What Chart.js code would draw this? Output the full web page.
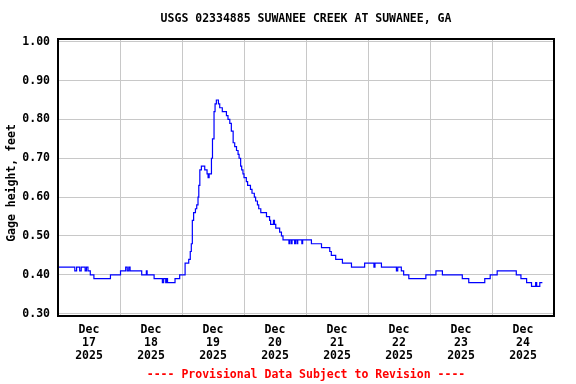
<!DOCTYPE html>
<html>
<head>
<meta charset="utf-8">
<script src="https://cdn.jsdelivr.net/npm/chart.js@4"></script>
<style>
  body { margin: 0; background: #fff; }
</style>
</head>
<body>
<canvas id="gage" width="576" height="384"></canvas>
<script>
// Gage height readings: hours since Dec 17 2025 00:00, value holds until the next reading
const hours = [0, 6.5, 7.2, 8.4, 9.0, 10.5, 11.0, 11.6, 12.5, 13.9, 20.3, 24.2, 26.2, 26.8, 27.4, 27.9,
  32.4, 34.2, 34.5, 37.2, 40.4, 40.9, 41.7, 42.0, 42.4, 45.3, 47.1, 49.2, 50.6,
  51.2, 51.6, 52.0, 52.5, 53.2, 53.7, 54.2, 54.5, 54.9, 55.5, 56.8, 57.7, 58.1, 58.5, 59.4, 59.8,
  60.4, 60.8, 61.3, 62.1, 62.6, 63.6, 65.2, 65.8, 66.5, 67.1, 67.8, 68.4, 69.1, 69.7, 70.1, 70.7,
  71.1, 71.6, 72.0, 72.9, 73.4, 74.5, 75.1, 76.0, 76.5, 77.2, 77.7, 78.5, 80.7, 81.9, 82.3, 83.4,
  83.8, 84.3, 85.8, 86.5, 87.1, 89.4, 89.7, 90.3, 90.6, 91.6, 91.9, 92.5, 92.8, 94.4, 94.7, 98.1,
  102.0, 105.2, 105.8, 107.5, 110.1, 113.6, 118.7, 122.3, 122.7, 123.3, 125.2, 131.0, 131.5, 132.9,
  133.8, 135.8, 142.4, 146.3, 148.8, 156.5, 159.0, 165.2, 167.3, 170.0, 177.4, 179.2, 181.4, 183.3,
  184.9, 185.3, 186.5, 187.5];
const gageHeight = [0.42, 0.41, 0.42, 0.41, 0.42, 0.41, 0.42, 0.41, 0.40, 0.39, 0.40, 0.41, 0.42, 0.41, 0.42, 0.41,
  0.40, 0.41, 0.40, 0.39, 0.38, 0.39, 0.38, 0.39, 0.38, 0.39, 0.40, 0.43, 0.44,
  0.46, 0.48, 0.54, 0.56, 0.57, 0.58, 0.60, 0.63, 0.67, 0.68, 0.67, 0.66, 0.65, 0.66, 0.70, 0.75,
  0.82, 0.84, 0.85, 0.84, 0.83, 0.82, 0.81, 0.80, 0.79, 0.77, 0.74, 0.73, 0.72, 0.71, 0.70, 0.68,
  0.67, 0.66, 0.65, 0.64, 0.63, 0.62, 0.61, 0.60, 0.59, 0.58, 0.57, 0.56, 0.55, 0.54, 0.53, 0.54,
  0.53, 0.52, 0.51, 0.50, 0.49, 0.48, 0.49, 0.48, 0.49, 0.48, 0.49, 0.48, 0.49, 0.48, 0.49, 0.48,
  0.47, 0.46, 0.45, 0.44, 0.43, 0.42, 0.43, 0.42, 0.43, 0.43, 0.42, 0.41, 0.42, 0.41,
  0.40, 0.39, 0.40, 0.41, 0.40, 0.39, 0.38, 0.39, 0.40, 0.41, 0.40, 0.39, 0.38, 0.37,
  0.38, 0.37, 0.38, 0.38];

// Axes
const gridHours = [24, 48, 72, 96, 120, 144, 168];
const labelHours = [12, 36, 60, 84, 108, 132, 156, 180];
const labelDays = ["17", "18", "19", "20", "21", "22", "23", "24"];
const yTicks = [0.30, 0.40, 0.50, 0.60, 0.70, 0.80, 0.90, 1.00];

const title = "USGS 02334885 SUWANEE CREEK AT SUWANEE, GA";
const yTitle = "Gage height, feet";
const footer = "---- Provisional Data Subject to Revision ----";

const MONO = "'DejaVu Sans Mono', 'Liberation Mono', monospace";

const framePlugin = {
  id: "frame",
  afterDraw(chart) {
    const { ctx, chartArea: a } = chart;
    ctx.save();
    ctx.strokeStyle = "#000";
    ctx.lineWidth = 2;
    ctx.strokeRect(a.left, a.top, a.right - a.left, a.bottom - a.top);

    ctx.fillStyle = "#000";
    ctx.textAlign = "center";
    ctx.textBaseline = "middle";
    ctx.font = "bold 11.5px " + MONO;
    ctx.fillText(title, (a.left + a.right) / 2, 19);

    ctx.fillStyle = "#ff0000";
    ctx.fillText(footer, (a.left + a.right) / 2, 375);

    ctx.fillStyle = "#000";
    ctx.translate(12, 183);
    ctx.rotate(-Math.PI / 2);
    ctx.fillText(yTitle, 0, 0);
    ctx.restore();
  }
};

new Chart(document.getElementById("gage"), {
  type: "line",
  data: {
    datasets: [{
      data: hours.map((h, i) => ({ x: h, y: gageHeight[i] })),
      borderColor: "#0000ff",
      borderWidth: 1.2,
      pointRadius: 0,
      stepped: true,
      fill: false
    }]
  },
  options: {
    responsive: false,
    animation: false,
    devicePixelRatio: 1,
    layout: { padding: { top: 39, right: 22, bottom: 0, left: 0 } },
    plugins: { legend: { display: false }, tooltip: { enabled: false } },
    scales: {
      xGrid: {
        type: "linear", position: "bottom", min: 0, max: 192,
        afterBuildTicks: s => { s.ticks = gridHours.map(v => ({ value: v })); },
        afterFit: s => { s.height = 0; },
        ticks: { display: false },
        border: { display: false },
        grid: { color: "#c8c8c8", lineWidth: 1, drawTicks: false }
      },
      x: {
        type: "linear", position: "bottom", min: 0, max: 192,
        afterBuildTicks: s => { s.ticks = labelHours.map(v => ({ value: v })); },
        afterFit: s => { s.height = 68; },
        border: { display: false },
        grid: { display: false, drawTicks: false },
        ticks: {
          autoSkip: false, maxRotation: 0, padding: 8, color: "#000",
          font: { family: MONO, size: 11.5, weight: "bold", lineHeight: "13px" },
          callback: (v, i) => ["Dec", labelDays[i], "2025"]
        }
      },
      y: {
        type: "linear", position: "left", min: 0.294, max: 1.007,
        afterBuildTicks: s => { s.ticks = yTicks.map(v => ({ value: v })); },
        afterFit: s => { s.width = 58; },
        border: { display: false },
        grid: { color: "#c8c8c8", lineWidth: 1, drawTicks: false },
        ticks: {
          padding: 8, color: "#000",
          font: { family: MONO, size: 11.5, weight: "bold" },
          callback: v => v.toFixed(2)
        }
      }
    }
  },
  plugins: [framePlugin]
});
</script>
</body>
</html>
